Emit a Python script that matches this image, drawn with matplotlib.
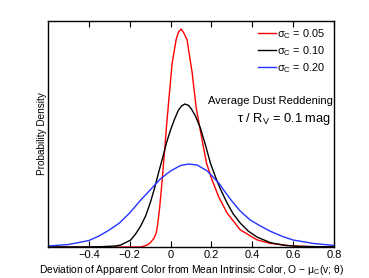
import matplotlib
matplotlib.use("Agg")
import matplotlib.pyplot as plt

plt.rcParams["font.family"] = ["Liberation Sans", "DejaVu Sans"]
plt.rcParams["mathtext.fontset"] = "custom"
plt.rcParams["mathtext.rm"] = "Liberation Sans"

# 读图得到的曲线数值 (概率密度)
red_x = [-0.60, -0.15, -0.138, -0.114, -0.10, -0.081, -0.070, -0.062, -0.054, -0.046,
         -0.039, -0.029, -0.020, -0.008, 0.008, 0.028, 0.040, 0.052, 0.065, 0.081,
         0.106, 0.125, 0.147, 0.176, 0.203, 0.236, 0.277, 0.341, 0.423, 0.488,
         0.60, 0.70, 0.80]
red_y = [0.0, 0.0, 0.012, 0.05, 0.10, 0.22, 0.35, 0.60, 0.95, 1.38,
         1.80, 2.40, 3.00, 3.70, 4.60, 5.20, 5.38, 5.45, 5.35, 5.18,
         4.35, 3.50, 2.88, 2.10, 1.68, 1.25, 0.85, 0.43, 0.18, 0.09,
         0.025, 0.008, 0.0]

black_x = [-0.60, -0.40, -0.341, -0.27, -0.244, -0.195, -0.171, -0.146, -0.122, -0.098,
           -0.078, -0.059, -0.039, -0.020, 0.0, 0.020, 0.039, 0.054, 0.070, 0.088,
           0.102, 0.122, 0.146, 0.171, 0.195, 0.220, 0.244, 0.277, 0.307, 0.341,
           0.380, 0.423, 0.488, 0.561, 0.634, 0.80]
black_y = [0.0, 0.002, 0.008, 0.025, 0.05, 0.175, 0.325, 0.525, 0.775, 1.125,
           1.475, 1.85, 2.225, 2.60, 2.925, 3.20, 3.425, 3.525, 3.575, 3.54,
           3.45, 3.275, 2.975, 2.55, 2.10, 1.75, 1.45, 1.10, 0.825, 0.60,
           0.40, 0.25, 0.11, 0.038, 0.015, 0.002]

blue_x = [-0.60, -0.50, -0.40, -0.35, -0.30, -0.25, -0.20, -0.15, -0.10, -0.05,
          0.0, 0.05, 0.09, 0.13, 0.18, 0.203, 0.236, 0.26, 0.30, 0.341,
          0.39, 0.44, 0.49, 0.55, 0.60, 0.70, 0.80]
blue_y = [0.025, 0.062, 0.162, 0.275, 0.425, 0.60, 0.85, 1.15, 1.425, 1.70,
          1.90, 2.04, 2.075, 2.05, 1.90, 1.775, 1.60, 1.425, 1.15, 0.90,
          0.675, 0.525, 0.39, 0.26, 0.175, 0.088, 0.038]

labels = ["σ$_\\mathregular{C}$ = 0.05", "σ$_\\mathregular{C}$ = 0.10", "σ$_\\mathregular{C}$ = 0.20"]
xticks = [-0.4, -0.2, 0, 0.2, 0.4, 0.6, 0.8]
xticklabels = ["\u22120.4", "\u22120.2", "0", "0.2", "0.4", "0.6", "0.8"]

fig = plt.figure(figsize=(3.69, 2.78), dpi=100)
ax = fig.add_axes([0.130, 0.1115, 0.775, 0.813])

ax.plot(red_x, red_y, color="red", lw=1.0, label=labels[0])
ax.plot(black_x, black_y, color="black", lw=1.0, label=labels[1])
ax.plot(blue_x, blue_y, color="#2233ff", lw=1.0, label=labels[2])

ax.set_xlim(-0.6, 0.8)
ax.set_ylim(0, 5.65)
ax.set_xticks(xticks)
ax.set_xticklabels(xticklabels)
ax.set_yticks([])
ax.tick_params(axis="x", direction="in", top=True, length=4, width=0.8, labelsize=8, pad=2.5)
for s in ax.spines.values():
    s.set_linewidth(1.0)

ax.set_xlabel("Deviation of Apparent Color from Mean Intrinsic Color, O \u2212 μ$_\\mathregular{C}$(v; θ)",
              fontsize=7.4, labelpad=1.5)
ax.set_ylabel("Probability Density", fontsize=7.2, labelpad=1)

ax.legend(loc="upper right", frameon=False, fontsize=7.8, handlelength=1.6,
          handletextpad=0.15, labelspacing=0.3, borderaxespad=0.15,
          bbox_to_anchor=(0.99, 1.0))

ax.text(0.997, 0.645, "Average Dust Reddening", transform=ax.transAxes,
        ha="right", va="center", fontsize=8)
ax.text(0.99, 0.565, "τ / R$_\\mathregular{V}$ = 0.1 mag", transform=ax.transAxes,
        ha="right", va="center", fontsize=9.3)

fig.savefig("out.png", dpi=100)
